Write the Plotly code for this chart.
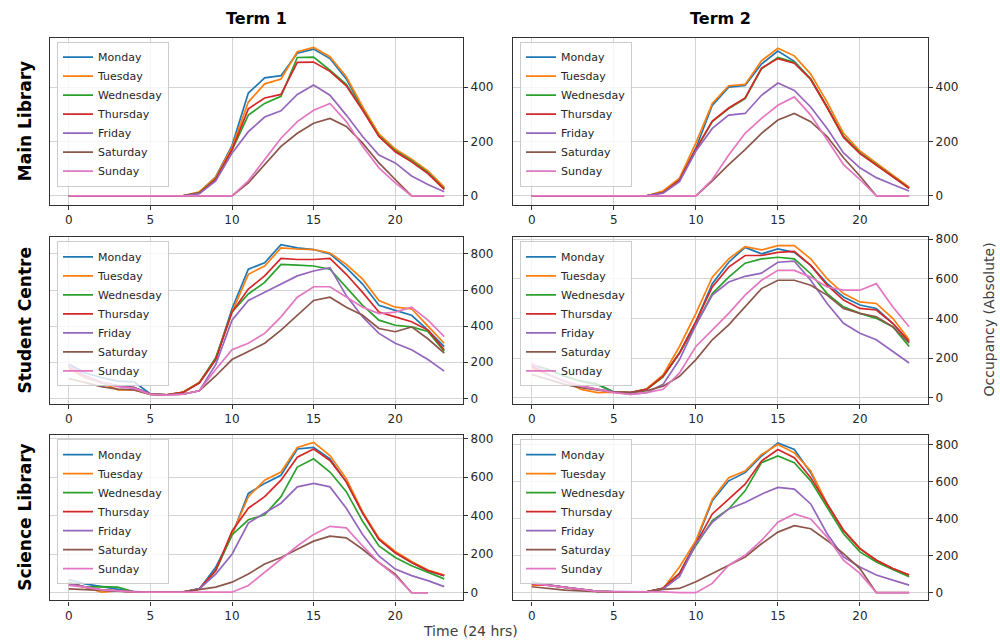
import plotly.graph_objects as go

# ---------------- data ----------------
hours = list(range(24))
days = ["Monday", "Tuesday", "Wednesday", "Thursday", "Friday", "Saturday", "Sunday"]
day_colors = ["#1f77b4", "#ff7f0e", "#2ca02c", "#d62728", "#9467bd", "#8c564b", "#e377c2"]
buildings = ["Main Library", "Student Centre", "Science Library"]
terms = ["Term 1", "Term 2"]
x_ticks = [0, 5, 10, 15, 20]

# Main Library, Term 1
ml1_mon = [0, 0, 0, 0, 0, 0, 0, 0, 12, 70, 185, 378, 434, 442, 525, 540, 505, 430, 320, 222, 168, 130, 88, 28]
ml1_tue = [0, 0, 0, 0, 0, 0, 0, 0, 15, 68, 178, 345, 412, 430, 530, 546, 512, 438, 328, 228, 172, 135, 92, 32]
ml1_wed = [0, 0, 0, 0, 0, 0, 0, 0, 12, 62, 168, 297, 340, 366, 509, 510, 462, 410, 318, 220, 165, 128, 85, 25]
ml1_thu = [0, 0, 0, 0, 0, 0, 0, 0, 10, 60, 170, 320, 360, 373, 491, 492, 458, 405, 315, 218, 162, 125, 82, 24]
ml1_fri = [0, 0, 0, 0, 0, 0, 0, 0, 8, 55, 157, 236, 290, 313, 373, 408, 370, 297, 218, 150, 121, 73, 42, 15]
ml1_sat = [0, 0, 0, 0, 0, 0, 0, 0, 0, 0, 0, 48, 115, 182, 230, 267, 285, 255, 194, 121, 60, 0, 0, 0]
ml1_sun = [0, 0, 0, 0, 0, 0, 0, 0, 0, 0, 0, 55, 133, 212, 273, 315, 340, 273, 182, 103, 48, 0, 0, 0]

# Main Library, Term 2
ml2_mon = [0, 0, 0, 0, 0, 0, 0, 0, 15, 60, 175, 333, 400, 406, 485, 533, 495, 430, 327, 218, 158, 115, 73, 30]
ml2_tue = [0, 0, 0, 0, 0, 0, 0, 0, 18, 65, 195, 340, 405, 410, 497, 543, 515, 448, 345, 230, 165, 120, 78, 32]
ml2_wed = [0, 0, 0, 0, 0, 0, 0, 0, 12, 58, 170, 273, 321, 358, 467, 509, 491, 430, 327, 218, 158, 115, 73, 28]
ml2_thu = [0, 0, 0, 0, 0, 0, 0, 0, 12, 58, 172, 275, 323, 360, 470, 505, 488, 428, 325, 215, 155, 112, 70, 28]
ml2_fri = [0, 0, 0, 0, 0, 0, 0, 0, 10, 52, 165, 248, 297, 303, 370, 415, 388, 327, 248, 158, 103, 67, 42, 18]
ml2_sat = [0, 0, 0, 0, 0, 0, 0, 0, 0, 0, 0, 55, 115, 170, 230, 279, 303, 273, 218, 140, 73, 0, 0, 0]
ml2_sun = [0, 0, 0, 0, 0, 0, 0, 0, 0, 0, 0, 60, 150, 230, 285, 333, 364, 297, 206, 115, 60, 0, 0, 0]

# Student Centre, Term 1
sc1_mon = [190, 142, 115, 96, 91, 24, 20, 33, 87, 215, 496, 715, 751, 851, 833, 824, 800, 724, 633, 515, 487, 460, 378, 287]
sc1_tue = [165, 115, 87, 47, 47, 22, 20, 35, 90, 220, 478, 687, 733, 833, 827, 824, 805, 742, 660, 542, 505, 496, 400, 305]
sc1_wed = [180, 125, 87, 69, 60, 24, 20, 33, 87, 225, 478, 578, 642, 742, 738, 733, 715, 615, 515, 433, 405, 396, 370, 260]
sc1_thu = [175, 120, 87, 69, 60, 24, 20, 33, 85, 215, 478, 605, 678, 775, 769, 769, 775, 687, 587, 478, 451, 424, 378, 269]
sc1_fri = [185, 125, 90, 69, 60, 24, 20, 24, 42, 187, 433, 542, 587, 633, 678, 705, 724, 569, 451, 360, 305, 269, 215, 151]
sc1_sat = [110, 87, 65, 51, 47, 22, 20, 24, 42, 124, 215, 260, 305, 378, 460, 542, 560, 505, 460, 387, 369, 396, 330, 251]
sc1_sun = [180, 120, 87, 65, 55, 22, 18, 24, 42, 160, 269, 305, 360, 451, 560, 618, 618, 560, 505, 469, 478, 505, 433, 342]

# Student Centre, Term 2
sc2_mon = [167, 142, 108, 83, 67, 28, 25, 42, 108, 225, 383, 575, 683, 758, 725, 750, 733, 667, 575, 508, 467, 450, 375, 283]
sc2_tue = [150, 117, 83, 42, 25, 28, 25, 45, 115, 258, 425, 608, 700, 762, 745, 767, 767, 700, 600, 525, 483, 475, 400, 292]
sc2_wed = [167, 142, 108, 83, 67, 28, 25, 42, 105, 225, 367, 525, 608, 678, 700, 708, 700, 625, 525, 458, 425, 400, 358, 258]
sc2_thu = [158, 117, 83, 58, 42, 28, 25, 42, 108, 225, 383, 558, 658, 717, 717, 733, 738, 667, 567, 492, 450, 442, 375, 283]
sc2_fri = [167, 117, 83, 58, 42, 28, 17, 25, 67, 192, 367, 517, 583, 612, 628, 683, 688, 592, 475, 375, 325, 292, 233, 175]
sc2_sat = [117, 92, 67, 50, 40, 28, 25, 35, 58, 108, 192, 292, 367, 458, 550, 592, 592, 567, 517, 450, 425, 408, 358, 275]
sc2_sun = [175, 117, 83, 58, 42, 25, 17, 25, 42, 125, 258, 342, 425, 517, 592, 642, 642, 608, 558, 542, 542, 575, 458, 358]

# Science Library, Term 1
sl1_mon = [68, 46, 32, 20, 5, 3, 3, 3, 20, 132, 300, 516, 568, 610, 747, 755, 696, 576, 414, 277, 208, 157, 115, 89]
sl1_tue = [43, 29, 3, 9, 5, 3, 3, 3, 20, 115, 302, 499, 585, 627, 755, 781, 713, 593, 420, 283, 215, 162, 118, 92]
sl1_wed = [55, 29, 32, 29, 5, 3, 3, 3, 20, 115, 300, 379, 405, 499, 653, 696, 627, 525, 371, 243, 183, 140, 106, 72]
sl1_thu = [50, 29, 15, 9, 5, 3, 3, 3, 20, 115, 320, 439, 499, 585, 704, 747, 687, 576, 414, 277, 208, 157, 115, 89]
sl1_fri = [46, 29, 15, 9, 5, 3, 3, 3, 20, 97, 200, 362, 414, 465, 550, 568, 550, 439, 303, 191, 123, 89, 63, 32]
sl1_sat = [20, 15, 10, 8, 5, 3, 3, 5, 17, 29, 55, 97, 149, 183, 226, 268, 294, 285, 226, 157, 97, 0, 0, None]
sl1_sun = [38, 29, 15, 9, 5, 3, 3, 3, 3, 0, 3, 38, 106, 174, 243, 303, 345, 337, 243, 157, 89, 0, 0, None]

# Science Library, Term 2
sl2_mon = [59, 41, 29, 18, 7, 5, 5, 5, 23, 104, 273, 496, 604, 648, 738, 809, 773, 648, 479, 336, 238, 175, 130, 95]
sl2_tue = [41, 41, 29, 18, 7, 5, 5, 5, 23, 139, 282, 505, 621, 657, 746, 800, 755, 657, 479, 336, 238, 175, 130, 95]
sl2_wed = [50, 41, 29, 18, 7, 5, 5, 5, 23, 104, 255, 389, 452, 550, 702, 738, 702, 604, 461, 318, 220, 166, 125, 86]
sl2_thu = [46, 41, 29, 18, 7, 5, 5, 5, 23, 104, 264, 425, 505, 586, 711, 773, 729, 621, 479, 336, 238, 175, 130, 95]
sl2_fri = [54, 41, 29, 18, 7, 5, 5, 5, 20, 86, 264, 380, 452, 487, 532, 568, 559, 479, 318, 193, 139, 95, 68, 41]
sl2_sat = [32, 23, 14, 10, 5, 5, 5, 5, 18, 23, 59, 104, 148, 193, 264, 327, 362, 345, 282, 211, 130, 0, 0, 0]
sl2_sun = [50, 41, 29, 18, 7, 5, 5, 3, 4, 0, 0, 50, 148, 202, 282, 380, 425, 398, 300, 175, 104, 0, 0, 0]

panels = [
    [ml1_mon, ml1_tue, ml1_wed, ml1_thu, ml1_fri, ml1_sat, ml1_sun],
    [ml2_mon, ml2_tue, ml2_wed, ml2_thu, ml2_fri, ml2_sat, ml2_sun],
    [sc1_mon, sc1_tue, sc1_wed, sc1_thu, sc1_fri, sc1_sat, sc1_sun],
    [sc2_mon, sc2_tue, sc2_wed, sc2_thu, sc2_fri, sc2_sat, sc2_sun],
    [sl1_mon, sl1_tue, sl1_wed, sl1_thu, sl1_fri, sl1_sat, sl1_sun],
    [sl2_mon, sl2_tue, sl2_wed, sl2_thu, sl2_fri, sl2_sat, sl2_sun],
]

# ---------------- layout geometry ----------------
W, H = 1000, 643
col_px = [(50, 463), (513, 928)]
row_px = [(33, 202), (235, 403), (435, 602)]
y_ranges = [[-33, 582], [-33, 582], [-29, 891], [-30, 808], [-40, 818], [-42, 850]]
y_tick_sets = [[0, 200, 400], [0, 200, 400], [0, 200, 400, 600, 800], [0, 200, 400, 600, 800],
               [0, 200, 400, 600, 800], [0, 200, 400, 600, 800]]

FONT = "DejaVu Sans"
TXT = "#262626"

fig = go.Figure()
layout = dict(
    width=W, height=H, margin=dict(l=0, r=0, t=0, b=0),
    paper_bgcolor="white", plot_bgcolor="white",
    font=dict(family=FONT, size=12, color=TXT),
)

for k in range(6):
    r, c = divmod(k, 2)
    idx = k + 1
    sfx = "" if idx == 1 else str(idx)
    xa, ya = "x" + sfx, "y" + sfx
    leg = "legend" + sfx
    for d, (day, col) in enumerate(zip(days, day_colors)):
        fig.add_trace(go.Scatter(
            x=hours, y=panels[k][d], mode="lines", name=day,
            line=dict(color=col, width=1.7),
            xaxis=xa, yaxis=ya, legend=leg, connectgaps=False,
        ))
    x0, x1 = col_px[c]
    y0, y1 = row_px[r]
    dx = [x0 / W, x1 / W]
    dy = [1 - y1 / H, 1 - y0 / H]
    common = dict(showline=True, mirror=True, linecolor="#333333", linewidth=1.4,
                  showgrid=True, gridcolor="#d4d4d4", gridwidth=1, zeroline=False,
                  ticks="outside", ticklen=4, tickcolor="#333333",
                  tickfont=dict(family=FONT, size=12, color=TXT))
    layout["xaxis" + sfx] = dict(domain=dx, range=[-1.15, 24.15], anchor=ya,
                                 tickvals=x_ticks, **common)
    layout["yaxis" + sfx] = dict(domain=dy, range=y_ranges[k], anchor=xa, side="right",
                                 tickvals=y_tick_sets[k], **common)
    layout[leg] = dict(
        x=dx[0] + 7 / W, y=dy[1] - 4 / H, xanchor="left", yanchor="top",
        bgcolor="rgba(255,255,255,0.8)", bordercolor="#cccccc", borderwidth=1,
        font=dict(family=FONT, size=11, color=TXT), itemwidth=30,
        tracegroupgap=0,
    )

annotations = []
# column titles
for c, t in enumerate(terms):
    x0, x1 = col_px[c]
    annotations.append(dict(text="<b>%s</b>" % t, x=(x0 + x1) / 2 / W, y=1 - 14 / H,
                            xref="paper", yref="paper", showarrow=False,
                            font=dict(family=FONT, size=16, color="black"),
                            xanchor="center", yanchor="middle"))
# row labels
for r, b in enumerate(buildings):
    y0, y1 = row_px[r]
    annotations.append(dict(text="<b>%s</b>" % b, x=25 / W, y=1 - (y0 + y1) / 2 / H,
                            xref="paper", yref="paper", showarrow=False, textangle=-90,
                            font=dict(family=FONT, size=17, color="black"),
                            xanchor="center", yanchor="middle"))
annotations.append(dict(text="Occupancy (Absolute)", x=989 / W, y=1 - 318 / H,
                        xref="paper", yref="paper", showarrow=False, textangle=-90,
                        font=dict(family=FONT, size=14, color="#404040"),
                        xanchor="center", yanchor="middle"))
annotations.append(dict(text="Time (24 hrs)", x=470 / W, y=1 - 633 / H,
                        xref="paper", yref="paper", showarrow=False,
                        font=dict(family=FONT, size=14, color="#404040"),
                        xanchor="center", yanchor="middle"))
layout["annotations"] = annotations

fig.update_layout(**layout)
fig.write_html("out.html")
